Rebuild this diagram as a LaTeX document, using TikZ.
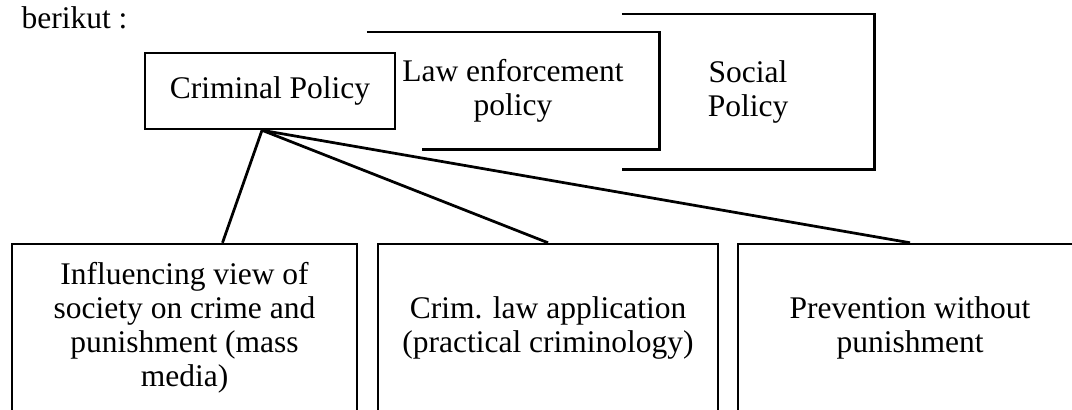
\documentclass[tikz,border=0pt]{standalone}
\usepackage{fontspec}
\setmainfont{Liberation Serif}
\usepackage{tikz}
\usetikzlibrary{calc}

\begin{document}
\begin{tikzpicture}[x=0.4pt, y=-0.4pt, line width=1pt, font=\fontsize{12.6}{13.6}\selectfont]
	% Define styles
	\tikzstyle{policy box}=[rectangle, fill=white, inner sep=0pt, align=center]
	\tikzstyle{framed}=[policy box, draw]
	\tikzstyle{edge}=[draw, line width=1.1pt, -]
	
	% Page window
	\clip (0,0) rectangle (1072,409);
	
	\node[anchor=base west] (intro) at (12,28) {berikut :};
	
	% Social policy (left side hidden)
	\node[policy box, minimum width=100pt, minimum height=61.2pt] (social) at (748,91.5) {Social\\Policy};
	\draw (social.north west) -- (social.north east) -- (social.south east) -- (social.south west);
	
	% Law enforcement policy
	\node[policy box, minimum width=116pt, minimum height=46pt] (law) at (513,90.5) {Law enforcement\\policy};
	\draw (law.north west) -- (law.north east) -- (law.south east) -- ($(law.south west)+(55,0)$);
	
	% Criminal policy on top
	\node[framed, minimum width=100pt, minimum height=30.4pt] (crim) at (270,91) {Criminal Policy};
	
	% Bottom row
	\node[framed, minimum width=138pt, minimum height=67.2pt] (view) at (184.5,328) {Influencing view of\\society on crime and\\punishment (mass\\media)};
	\node[framed, minimum width=136pt, minimum height=67.2pt] (apply) at (548,328) {Crim. law application\\(practical criminology)};
	\node[framed, minimum width=137.6pt, minimum height=67.2pt] (prevent) at (910,328) {Prevention without\\punishment};
	
	% Links from criminal policy
	\coordinate (apex) at ($(crim.south)+(-8,0)$);
	\draw[edge] (apex) -- ($(view.north)+(38,0)$);
	\draw[edge] (apex) -- (apply.north);
	\draw[edge] (apex) -- (prevent.north);
	
\end{tikzpicture}
\end{document}
